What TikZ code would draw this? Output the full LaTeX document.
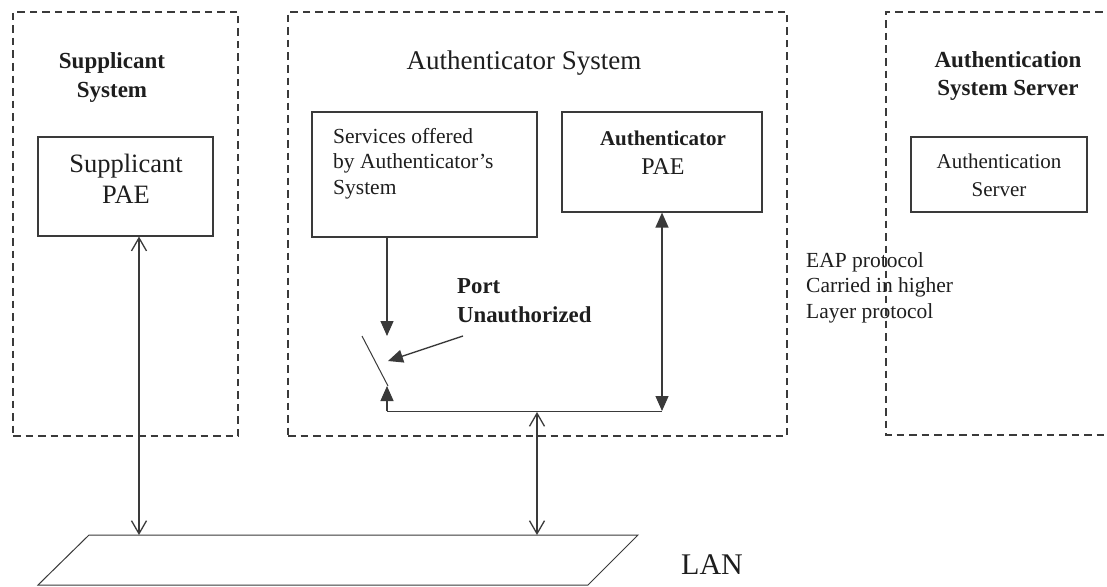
\documentclass[tikz,border=0pt]{standalone}
\usepackage{fontspec}
\setmainfont{Liberation Serif}
\usetikzlibrary{arrows.meta}
\definecolor{ink}{HTML}{1E1E1E}
\definecolor{rule}{HTML}{3A3A3A}
\newcommand\fsz[2]{\fontsize{#1}{#2}\selectfont}
\tikzset{
  sysframe/.style={draw=rule, line width=1.5pt, dash pattern=on 7.5pt off 5pt, inner sep=0pt},
  unit/.style={draw=rule, line width=1.2pt, inner sep=0pt},
  link/.style={draw=rule, line width=1.3pt},
  thinlink/.style={draw=rule, line width=1pt},
  open/.tip={Straight Barb[length=13pt,width=15pt,line width=1.3pt]},
  solid/.tip={Triangle[length=15pt,width=13pt]},
  lbl/.style={text=ink, inner sep=0pt}
}
\begin{document}
\begin{tikzpicture}[x=1pt,y=-1pt]
\useasboundingbox (0,0) rectangle (1107,586);
\fill[white] (0,0) rectangle (1107,586);

% dashed system frames
\node[sysframe, minimum width=225pt, minimum height=424pt] (supsys) at (125.5,224) {};
\node[sysframe, minimum width=499pt, minimum height=424pt] (authsys) at (537.5,224) {};
\draw[sysframe] (1115,12) -| (886,435) -- (1115,435);

% system titles (multi-line nodes are anchored at their last baseline)
\node[lbl, font=\fsz{23}{29}\bfseries, align=center, anchor=base] (suptitle) at (112,97) {Supplicant\\System};
\node[lbl, font=\fsz{27}{32}, anchor=base] (authtitle) at (524,69) {Authenticator System};
\node[lbl, font=\fsz{23}{28}\bfseries, align=center, anchor=base] (srvtitle) at (1008,95) {Authentication\\System Server};

% component boxes
\node[unit, minimum width=175pt, minimum height=99pt] (supPAE) at (125.5,186.5) {};
\node[unit, minimum width=225pt, minimum height=125pt] (services) at (424.5,174.5) {};
\node[unit, minimum width=200pt, minimum height=100pt] (authPAE) at (662,162) {};
\node[unit, minimum width=176pt, minimum height=75pt] (authsrv) at (999,174.5) {};

% box contents
\node[lbl, font=\fsz{26.5}{31}, align=center, anchor=base] (supPAEtxt) at (126,203) {Supplicant\\PAE};
\node[lbl, font=\fsz{21.5}{25.5}, align=left, anchor=base west] (servicestxt) at (333,194) {Services offered\\by Authenticator’s\\System};
\node[lbl, font=\fsz{21}{29}, align=center, anchor=base] (authPAEtxt) at (663,174) {\textbf{Authenticator}\\{\fontsize{24}{29}\selectfont PAE}};
\node[lbl, font=\fsz{21}{28}, align=center, anchor=base] (authsrvtxt) at (999,196) {Authentication\\Server};

% free labels
\node[lbl, font=\fsz{21.5}{25.5}, align=left, anchor=base west] (eap) at (806,318) {EAP protocol\\Carried in higher\\Layer protocol};
\node[lbl, font=\fsz{22.8}{29}\bfseries, align=left, anchor=base west] (portlbl) at (457,322) {Port\\Unauthorized};
\node[lbl, font=\fsz{30}{34}, anchor=base west] (lantxt) at (681,574) {LAN};

% LAN segment
\coordinate (lanTL) at (89,535);
\coordinate (lanTR) at (638,535);
\coordinate (lanBR) at (588,585);
\coordinate (lanBL) at (38,585);
\draw[thinlink] (lanTL) -- (lanTR) -- (lanBR) -- (lanBL) -- cycle;

% port switch and internal path
\coordinate (lanS) at (139,535);
\coordinate (lanC) at (537,535);
\coordinate (swIn) at (387,336);
\coordinate (swFree) at (362,336);
\coordinate (swPivot) at (388,386);
\coordinate (swBase) at (387,411);
\coordinate (pathR) at (662,411);
\coordinate (pathC) at (537,412);
\coordinate (portFrom) at (463,336);
\coordinate (portTo) at (388,361);

\draw[link, open-open] (supPAE.south -| lanS) -- (lanS);
\draw[link, -solid] (services.south -| swIn) -- (swIn);
\draw[thinlink] (swFree) -- (swPivot);
\draw[link, -solid] (swBase) -- (swPivot -| swBase);
\draw[thinlink] (swBase) -- (pathR);
\draw[link, solid-solid] (pathR) -- (authPAE.south -| pathR);
\draw[link, -solid] (portFrom) -- (portTo);
\draw[link, open-open] (pathC) -- (lanC);
\end{tikzpicture}
\end{document}
